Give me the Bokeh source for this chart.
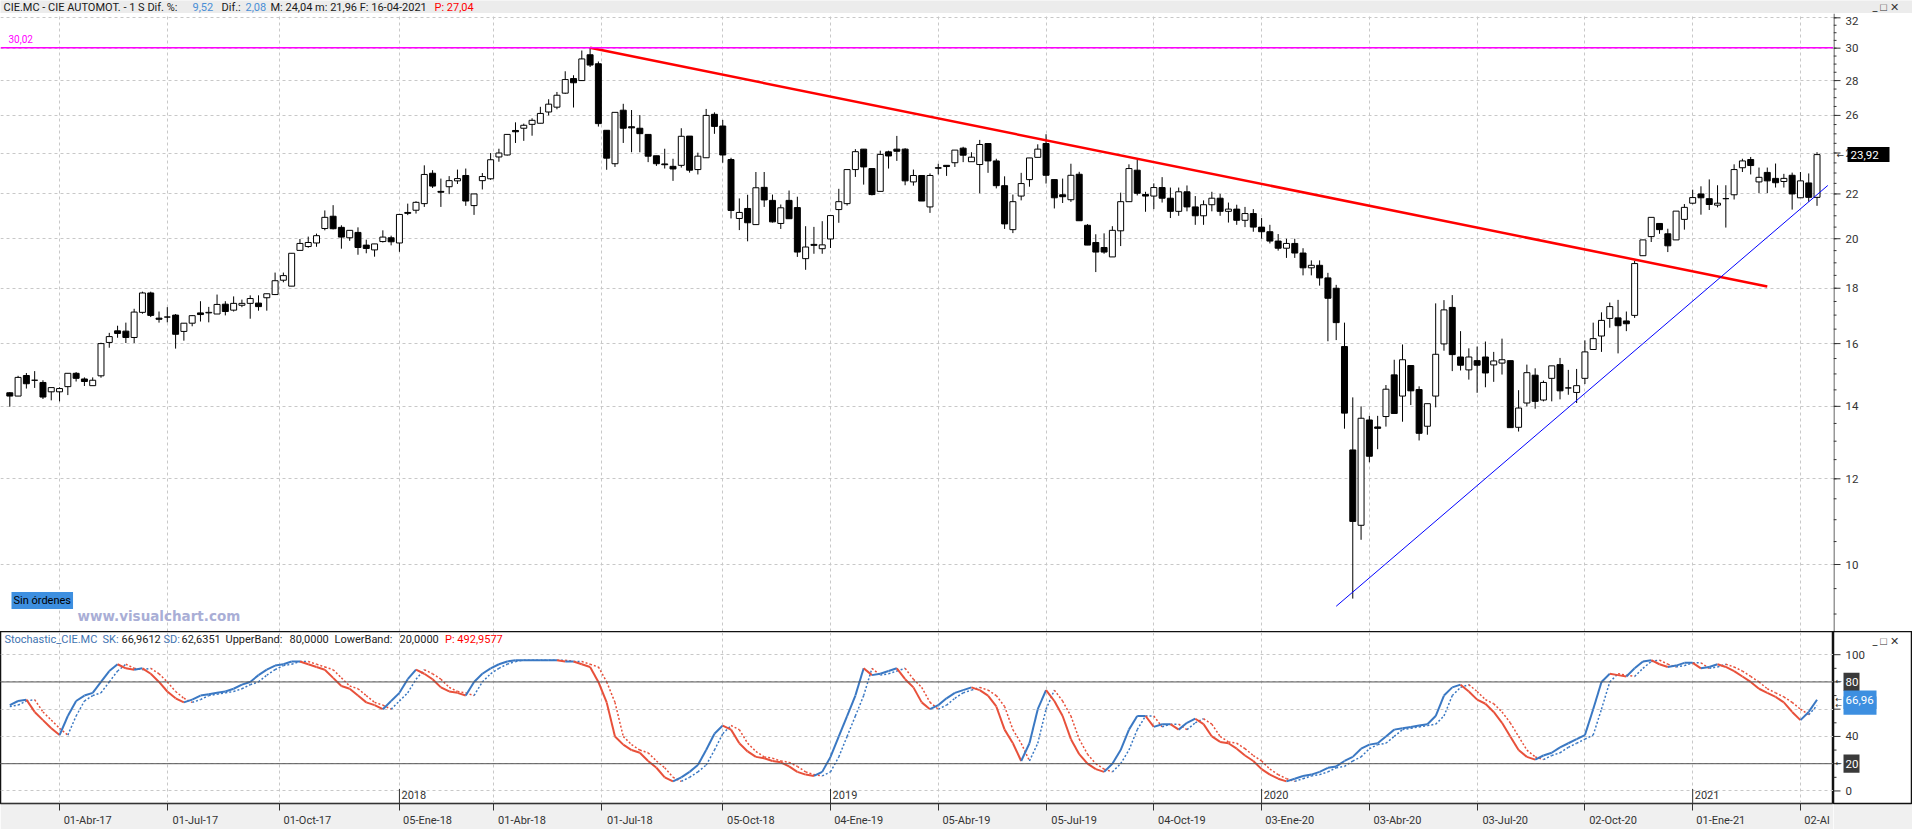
import math
from bokeh.plotting import figure
from bokeh.layouts import column, row
from bokeh.models import Range1d, FixedTicker, LinearAxis, Grid, Label, Span, ColumnDataSource
from bokeh.core.properties import value
from bokeh.embed import file_html
from bokeh.resources import INLINE

# ---------------- data ----------------
open_ = [14.41,14.31,14.95,14.80,14.73,14.44,14.44,14.60,15.02,14.84,
         14.63,14.94,16.04,16.44,16.43,16.21,17.10,17.82,16.89,16.93,
         17.00,16.42,16.71,17.08,17.08,17.04,17.40,17.18,17.36,17.43,
         17.44,17.64,17.76,18.31,18.08,19.51,19.67,19.82,20.44,20.98,
         20.49,20.04,20.27,19.73,19.53,19.88,20.04,19.82,21.15,21.25,
         21.55,22.99,22.12,22.34,22.62,22.88,21.46,22.63,22.72,23.80,
         23.90,25.18,25.30,25.51,25.57,26.19,26.46,27.26,28.12,28.00,
         29.58,29.02,25.19,23.46,26.29,25.38,25.30,24.97,23.86,23.45,
         23.33,23.38,24.88,23.17,23.76,26.06,25.42,23.67,20.88,21.33,
         20.61,22.31,21.70,20.66,21.70,21.37,19.17,19.76,19.58,19.99,
         21.28,21.55,23.17,24.20,23.22,22.12,24.06,24.20,24.20,22.57,
         22.88,21.40,23.26,23.38,23.51,24.25,23.56,23.42,24.49,23.60,
         22.39,20.39,21.90,22.68,23.78,24.49,22.68,21.96,21.73,22.94,
         20.58,19.84,19.63,19.24,20.34,21.64,23.14,21.97,21.90,22.30,
         21.80,21.20,22.10,21.40,21.00,21.50,21.80,21.20,21.30,20.80,
         21.10,20.50,20.30,19.90,19.60,19.80,19.40,18.80,18.90,18.40,
         18.00,15.90,12.76,10.87,13.60,13.40,13.70,14.97,14.31,15.27,
         14.51,13.42,14.31,15.99,17.28,15.55,15.13,15.43,15.55,15.29,
         15.35,15.43,13.39,14.10,14.96,14.19,14.86,15.30,14.56,14.42,
         14.86,15.80,16.26,16.88,16.90,16.79,16.99,19.29,20.09,20.66,
         20.21,19.95,20.84,21.57,22.00,21.78,21.48,21.78,21.96,23.26,
         23.67,22.57,23.03,22.74,22.59,22.89,21.82,22.52,21.84]
high = [14.43,14.94,15.03,15.09,14.80,14.57,14.58,15.02,15.06,14.89,
        14.89,16.03,16.37,16.62,16.73,17.23,17.87,17.87,17.13,17.29,
        17.04,16.71,17.00,17.51,17.30,17.76,17.51,17.69,17.57,17.73,
        17.73,17.79,18.61,18.61,19.39,19.99,20.09,20.22,21.24,21.48,
        20.58,20.36,20.49,19.96,19.78,20.36,20.13,21.09,21.55,21.66,
        23.38,23.14,22.73,22.85,23.17,23.22,22.00,23.00,24.00,24.22,
        24.97,25.62,25.55,25.84,26.48,26.91,27.33,28.56,28.32,29.85,
        30.02,29.16,25.19,26.17,26.65,26.30,26.02,24.97,23.86,24.22,
        23.71,25.30,24.88,24.02,26.36,26.17,25.75,23.76,21.79,21.96,
        23.05,23.05,21.97,21.51,22.16,21.87,20.54,20.51,20.76,21.03,
        22.24,23.17,24.20,24.20,23.22,24.12,24.12,24.89,24.25,23.17,
        22.88,22.98,23.46,23.38,24.15,24.32,24.04,24.68,24.49,23.71,
        22.84,21.97,23.01,23.75,24.45,24.98,22.68,22.73,23.46,23.06,
        20.63,20.19,20.23,20.54,22.06,23.43,23.66,22.10,22.50,22.80,
        22.30,22.30,22.40,21.90,21.70,22.10,22.00,21.60,21.50,21.40,
        21.30,20.90,20.60,20.20,20.00,20.00,19.60,19.10,19.10,18.60,
        18.13,16.73,14.27,14.00,13.72,13.72,14.65,15.46,15.97,15.27,
        14.61,14.08,17.43,17.55,17.74,16.43,15.84,15.90,16.07,15.72,
        16.17,15.43,14.49,15.30,15.18,14.79,15.26,15.52,15.13,15.16,
        16.11,16.73,17.10,17.46,17.56,17.13,19.08,19.95,20.93,20.66,
        20.43,21.21,21.53,22.20,22.36,22.69,22.41,22.41,23.43,23.71,
        23.80,23.27,23.27,23.47,22.96,23.02,23.05,22.98,24.04]
low = [13.99,14.31,14.54,14.56,14.22,14.18,14.15,14.34,14.76,14.62,
       14.63,14.88,15.86,16.20,16.02,16.02,17.05,16.93,16.73,16.74,
       15.83,16.10,16.60,16.77,16.74,17.04,16.99,17.13,17.29,16.87,
       17.16,17.16,17.74,18.23,18.08,19.51,19.62,19.66,20.36,20.40,
       19.58,19.91,19.33,19.39,19.25,19.84,19.72,19.45,21.03,21.10,
       21.40,22.28,21.40,21.99,22.47,21.45,21.04,22.21,22.67,23.56,
       23.87,24.52,24.63,24.90,25.57,26.00,26.34,27.21,26.44,28.00,
       28.82,25.39,23.16,23.30,24.52,24.04,24.04,23.54,23.35,23.22,
       22.62,23.27,23.02,22.93,23.76,25.00,23.51,20.88,20.37,19.89,
       20.61,21.40,20.70,20.42,20.87,19.24,18.72,19.37,19.37,19.61,
       20.69,21.46,22.81,22.44,21.93,22.12,23.22,23.60,22.41,22.39,
       21.67,21.13,22.93,22.86,23.30,23.54,23.56,22.03,23.01,22.26,
       20.42,20.24,21.70,22.34,23.78,22.49,21.33,21.58,21.63,20.78,
       19.73,18.63,19.37,19.24,19.69,21.64,21.93,21.18,21.30,21.60,
       20.90,21.00,21.20,20.60,20.60,21.20,21.00,20.70,20.60,20.50,
       20.30,20.00,19.80,19.50,19.20,19.20,18.50,18.50,18.10,16.08,
       16.12,13.35,9.30,10.54,12.43,12.78,13.41,13.79,13.55,14.04,
       13.02,13.18,13.97,15.76,15.09,15.11,14.82,14.41,14.58,14.75,
       14.98,13.38,13.27,14.00,13.93,14.15,14.15,14.21,14.35,14.10,
       14.68,15.80,15.72,16.55,15.67,16.43,16.90,19.29,19.86,20.21,
       19.44,19.95,20.39,21.52,21.05,21.26,21.38,20.48,21.74,23.05,
       22.93,22.04,22.04,22.30,22.30,21.28,21.82,21.64,21.45]
close = [14.31,14.89,14.69,14.80,14.28,14.57,14.54,15.02,14.86,14.76,
         14.80,16.00,16.24,16.35,16.21,17.11,17.82,16.99,16.85,16.93,
         16.32,16.71,16.98,17.02,17.10,17.39,17.13,17.43,17.43,17.61,
         17.31,17.79,18.29,18.49,19.39,19.80,19.84,20.13,20.93,20.43,
         20.07,20.36,19.63,19.59,19.78,20.07,19.87,21.06,21.11,21.61,
         22.93,22.37,22.08,22.63,22.73,21.67,22.00,22.83,23.66,24.00,
         24.97,25.11,25.46,25.73,26.11,26.63,27.14,28.06,27.87,29.32,
         28.94,25.55,23.74,26.17,25.30,25.32,25.01,23.84,23.46,23.41,
         23.20,24.87,23.14,23.84,26.00,25.40,23.90,21.24,21.15,20.69,
         22.29,21.72,20.73,21.36,20.87,19.44,19.65,19.72,19.74,21.01,
         21.64,23.17,24.07,23.30,21.97,23.93,23.85,24.09,22.62,22.88,
         21.67,22.88,23.24,23.32,24.15,23.89,23.79,24.44,23.60,22.39,
         20.64,21.64,22.49,23.75,24.20,22.89,21.82,21.87,22.89,20.78,
         19.73,19.44,19.44,20.36,21.64,23.22,22.03,21.90,22.30,21.80,
         21.20,22.10,21.40,21.00,21.50,21.80,21.20,21.30,20.80,21.10,
         20.50,20.30,19.90,19.60,19.80,19.40,18.80,18.90,18.40,17.62,
         16.73,13.80,10.96,13.65,12.59,13.36,14.52,13.79,15.46,14.47,
         13.22,14.08,15.64,17.19,15.63,15.28,15.55,15.28,15.03,15.42,
         15.46,13.38,13.95,15.04,14.15,14.73,15.26,14.47,14.56,14.63,
         15.72,16.17,16.81,17.31,16.62,16.69,18.97,19.95,20.93,20.39,
         19.70,21.21,21.38,21.83,21.82,21.51,21.57,21.78,23.17,23.60,
         23.37,22.79,22.62,22.53,22.74,22.00,22.62,21.84,23.92]
sk = [63,66,67,58,52,46,41,55,66,70, 72,80,88,93,90,89,90,86,80,73,
      68,65,67,70,71,72,73,75,78,80, 85,89,92,93,95,95,93,91,89,83,
      77,75,70,65,63,60,66,72,82,89, 86,82,76,73,72,70,80,86,90,93,
      95,96,96,96,96,96,96,95,95,93, 91,80,65,40,34,30,28,22,17,10,
      7,10,14,19,30,42,48,45,35,29, 25,24,22,21,18,14,12,11,14,25,
      40,55,70,90,85,86,88,90,82,76, 65,60,63,68,72,74,76,74,70,62,
      45,35,22,35,60,74,66,55,38,27, 20,16,14,20,30,45,55,55,47,49,
      49,45,50,53,49,40,36,35,31,26, 22,16,12,9,7,9,11,12,14,17,
      18,22,25,31,34,35,40,45,46,47, 48,49,55,70,76,78,73,67,64,58,
      50,40,30,25,23,26,28,32,35,38, 41,60,80,86,85,84,90,95,96,93,
      91,92,94,94,90,91,93,91,88,84, 80,75,72,69,65,58,52,58,66.96]
sd = [62,63,66,67,58,52,46,41,55,66, 70,72,80,88,93,90,89,90,86,80,
      73,68,65,67,70,71,72,73,75,78, 80,85,89,92,93,95,95,93,91,89,
      83,77,75,70,65,63,60,66,72,82, 89,86,82,76,73,72,70,80,86,90,
      93,95,96,96,96,96,96,96,95,95, 93,91,80,65,40,34,30,28,22,17,
      10,7,10,14,19,30,42,48,45,35, 29,25,24,22,21,18,14,12,11,14,
      25,40,55,70,90,85,86,88,90,82, 76,65,60,63,68,72,74,76,74,70,
      62,45,35,22,35,60,74,66,55,38, 27,20,16,14,20,30,45,55,55,47,
      49,49,45,50,53,49,40,36,35,31, 26,22,16,12,9,7,9,11,12,14,
      17,18,22,25,31,34,35,40,45,46, 47,48,49,55,70,76,78,73,67,64,
      58,50,40,30,25,23,26,28,32,35, 38,41,60,80,86,85,84,90,95,96,
      93,91,92,94,94,90,91,93,91,88, 84,80,75,72,69,65,60,56,62.64]

N = len(close)
assert len(open_) == N and len(high) == N and len(low) == N, (len(open_), len(high), len(low), N)
assert len(sk) == N and len(sd) == N, (len(sk), len(sd), N)
bar = list(range(1, N + 1))

tick_pos = [7.0, 20.0, 33.5, 48, 59.4, 72.4, 87, 100, 113, 126, 139, 152, 165, 178, 191, 204, 217]
tick_labels = ["01-Abr-17", "01-Jul-17", "01-Oct-17", "05-Ene-18", "01-Abr-18", "01-Jul-18",
               "05-Oct-18", "04-Ene-19", "05-Abr-19", "05-Jul-19", "04-Oct-19", "03-Ene-20",
               "03-Abr-20", "03-Jul-20", "02-Oct-20", "01-Ene-21", "02-Al"]
year_pos = [48, 100, 152, 204]
year_labels = ["2018", "2019", "2020", "2021"]
price_ticks = list(range(10, 33, 2))
price_minor = [v / 2 for v in range(17, 66)]
stoch_ticks = [0, 20, 40, 60, 80, 100]
stoch_minor = [10, 30, 50, 70, 90]
resistance = 30.02
red_trend_x = [71, 213]
red_trend_y = [30.02, 18.07]
blue_trend_x = [161, 220.3]
blue_trend_y = [9.15, 22.4]
last_close = 23.92
last_sk, last_sd = 66.96, 62.64
upper_band, lower_band = 80, 20

# ---------------- geometry helpers (pixel -> data, for annotations) ----------------
W, AXW = 1912, 79
PW = W - AXW
FONT = "Roboto"
DARK = "#333333"
def px_to_bar(px):
    return (px - 9.3) / 8.29 + 1
def price_at(py):
    return 10 * math.exp((564 - py) / 470)
def py_of_price(v):
    return 564 - 470 * math.log(v / 10)
def stoch_at(py):
    return (796 - py) / 1.41
def py_of_stoch(v):
    return 796 - 1.41 * v

x_range = Range1d(px_to_bar(0), px_to_bar(PW))

def bare(fig):
    fig.grid.visible = False
    return fig

# ---------------- header ----------------
h = figure(width=W, height=13, x_range=Range1d(0, W), y_range=Range1d(0, 13),
           toolbar_location=None, output_backend="svg", x_axis_location=None, y_axis_location=None,
           min_border=0, background_fill_color="#ececec", border_fill_color="#ececec",
           outline_line_color=None)
bare(h)
head_parts = [(3, "CIE.MC - CIE AUTOMOT. -  1 S  Dif. %:", "#1a1a1a"),
              (192, "9,52", "#4a8fd6"), (221, "Dif.:", "#1a1a1a"), (245, "2,08", "#4a8fd6"),
              (270, "M: 24,04  m: 21,96  F: 16-04-2021", "#1a1a1a"), (434, "P: 27,04", "#ff0000"),
              (1872, "_ □ ✕", DARK)]
h.text(x=[a for a, _, _ in head_parts], y=[6.5] * len(head_parts), text=[b for _, b, _ in head_parts],
       text_color=[c for _, _, c in head_parts], text_font=value(FONT), text_font_size="11px",
       text_baseline="middle", text_align="left")

# ---------------- main price panel ----------------
price_range = Range1d(price_at(631), price_at(13))
p = figure(width=PW, height=618, x_range=x_range, y_range=price_range,
           y_axis_type="log", x_axis_location=None, y_axis_location=None,
           toolbar_location=None, output_backend="svg", min_border=0,
           background_fill_color="white", border_fill_color="white", outline_line_color=None)
bare(p)
p.add_layout(Grid(dimension=1, ticker=FixedTicker(ticks=price_ticks), grid_line_color="#c8c8c8",
                  grid_line_dash="3 3"))
p.add_layout(Grid(dimension=0, ticker=FixedTicker(ticks=tick_pos), grid_line_color="#c8c8c8",
                  grid_line_dash="3 3"))

tops = [max(o, c) for o, c in zip(open_, close)]
bots = [min(o, c) for o, c in zip(open_, close)]
fills = ["white" if c >= o else "black" for o, c in zip(open_, close)]
csrc = ColumnDataSource(dict(x=bar, high=high, low=low, top=tops, bottom=bots, fill=fills))
p.segment(x0="x", y0="high", x1="x", y1="low", source=csrc, line_color="black", line_width=1)
p.vbar(x="x", width=0.72, top="top", bottom="bottom", source=csrc, fill_color="fill",
       line_color="black", line_width=1)

p.add_layout(Span(location=resistance, dimension="width", line_color="#ff00ff", line_width=1.5))
p.line(x=red_trend_x, y=red_trend_y, line_color="#ff0000", line_width=2.5)
p.line(x=blue_trend_x, y=blue_trend_y, line_color="#0000ff", line_width=1)

p.text(x=[px_to_bar(8)], y=[price_at(38)], text=["30,02"], text_color="#ff00ff",
       text_font=value(FONT), text_font_size="10px", text_baseline="middle")
p.text(x=[px_to_bar(77)], y=[price_at(615)], text=["www.visualchart.com"], text_color="#a9aed6",
       text_font=value("DejaVu Sans"), text_font_style="bold", text_font_size="13.5px",
       text_baseline="middle")
p.add_layout(Label(x=px_to_bar(11), y=price_at(600), text="Sin órdenes", text_color="black",
                   text_font=FONT, text_font_size="11px", text_baseline="middle",
                   background_fill_color="#3d8fe0", padding=2))

# right-hand price scale (drawn in its own strip so the value box can overlap it)
pa = figure(width=AXW, height=618, x_range=Range1d(0, AXW), y_range=price_range, y_axis_type="log",
            x_axis_location=None, y_axis_location=None, toolbar_location=None, output_backend="svg",
            min_border=0, background_fill_color="white", border_fill_color="white", outline_line_color=None)
bare(pa)
lo_p, hi_p = price_at(631), price_at(13)
pa.segment(x0=[0.5], x1=[0.5], y0=[lo_p], y1=[hi_p], line_color=DARK, line_width=1)
pa.segment(x0=[0] * len(price_minor), x1=[3] * len(price_minor), y0=price_minor, y1=price_minor,
           line_color=DARK, line_width=1)
pa.segment(x0=[0] * len(price_ticks), x1=[7] * len(price_ticks), y0=price_ticks, y1=price_ticks,
           line_color=DARK, line_width=1)
lab_src = ColumnDataSource(dict(x=[12] * len(price_ticks), y=price_ticks,
                                text=[str(t) for t in price_ticks],
                                yoff=[3 if t == price_ticks[-1] else 0 for t in price_ticks]))
pa.text(x="x", y="y", text="text", y_offset="yoff", source=lab_src,
        text_color=DARK, text_font=value(FONT), text_font_size="11.5px", text_baseline="middle")
yc = py_of_price(last_close)
pa.quad(left=[14], right=[56], top=[price_at(yc - 7.5)], bottom=[price_at(yc + 7.5)],
        fill_color="black", line_color=None)
pa.text(x=[17], y=[last_close], text=["23,92"], text_color="white", text_font=value(FONT),
        text_font_size="11.5px", text_baseline="middle")
pa.text(x=[3], y=[last_close], text=["←"], text_color=DARK, text_font=value("DejaVu Sans"),
        text_font_size="9px", text_baseline="middle")

# ---------------- stochastic panel ----------------
stoch_range = Range1d(stoch_at(809), stoch_at(631))
q = figure(width=PW, height=198, x_range=x_range, y_range=stoch_range,
           x_axis_location=None, y_axis_location=None,
           toolbar_location=None, output_backend="svg",
           min_border_left=0, min_border_right=0, min_border_top=0, min_border_bottom=20,
           background_fill_color="white", border_fill_color="#f0f0f0",
           outline_line_color="#111111", outline_line_width=1.5)
bare(q)
q.add_layout(Grid(dimension=1, ticker=FixedTicker(ticks=stoch_ticks), grid_line_color="#c8c8c8",
                  grid_line_dash="3 3"))
q.add_layout(Grid(dimension=0, ticker=FixedTicker(ticks=tick_pos), grid_line_color="#c8c8c8",
                  grid_line_dash="3 3"))

label_pos = [round(t + (len(s) * 5.8 / 2 + 2) / 8.29, 3) for t, s in zip(tick_pos, tick_labels)]
xaxis = LinearAxis(ticker=FixedTicker(ticks=label_pos, minor_ticks=tick_pos),
                   axis_line_color=DARK, major_tick_out=0, major_tick_in=0, major_tick_line_color=None,
                   minor_tick_out=7, minor_tick_in=0, minor_tick_line_color=DARK,
                   major_label_overrides={lp: s for lp, s in zip(label_pos, tick_labels)},
                   major_label_text_font=FONT, major_label_text_font_size="11px",
                   major_label_text_color=DARK, major_label_standoff=3)
q.add_layout(xaxis, "below")

q.add_layout(Span(location=upper_band, dimension="width", line_color="#555555", line_width=1))
q.add_layout(Span(location=lower_band, dimension="width", line_color="#555555", line_width=1))

BLUE, RED = "#3a78c3", "#e8503a"
def seg_src(vals):
    return ColumnDataSource(dict(x0=bar[:-1], x1=bar[1:], y0=vals[:-1], y1=vals[1:],
                                 color=[BLUE if b >= a else RED for a, b in zip(vals[:-1], vals[1:])]))
q.segment(x0="x0", y0="y0", x1="x1", y1="y1", source=seg_src(sd), line_color="color",
          line_width=1.5, line_dash="2 2")
q.segment(x0="x0", y0="y0", x1="x1", y1="y1", source=seg_src(sk), line_color="color", line_width=2)

q.segment(x0=year_pos, x1=year_pos, y0=[stoch_at(809)] * len(year_pos), y1=[stoch_at(794)] * len(year_pos),
          line_color=DARK, line_width=1)
q.text(x=[y + 0.25 for y in year_pos], y=[stoch_at(800)] * len(year_pos), text=year_labels,
       text_color=DARK, text_font=value(FONT), text_font_size="11px", text_baseline="middle")

st_parts = [(4, "Stochastic_CIE.MC", "#3f73b0"), (102, "SK:", "#3f73b0"), (121, "66,9612", "#222222"),
            (163, "SD:", "#3f73b0"), (181, "62,6351", "#222222"), (225, "UpperBand:", "#222222"),
            (289, "80,0000", "#222222"), (334, "LowerBand:", "#222222"), (399, "20,0000", "#222222"),
            (444.5, "P: 492,9577", "#ff0000")]
q.text(x=[px_to_bar(a) for a, _, _ in st_parts], y=[stoch_at(639)] * len(st_parts),
       text=[b for _, b, _ in st_parts], text_color=[c for _, _, c in st_parts],
       text_font=value(FONT), text_font_size="11px", text_baseline="middle")

# right-hand stochastic scale strip
qa = figure(width=AXW, height=198, x_range=Range1d(0, AXW), y_range=stoch_range,
            x_axis_location=None, y_axis_location=None, toolbar_location=None, output_backend="svg",
            min_border_left=0, min_border_right=0, min_border_top=0, min_border_bottom=20,
            background_fill_color="white", border_fill_color="#f0f0f0",
            outline_line_color="#111111", outline_line_width=1.5)
bare(qa)
qa.segment(x0=[0] * len(stoch_minor), x1=[3] * len(stoch_minor), y0=stoch_minor, y1=stoch_minor,
           line_color=DARK, line_width=1)
qa.segment(x0=[0] * len(stoch_ticks), x1=[7] * len(stoch_ticks), y0=stoch_ticks, y1=stoch_ticks,
           line_color=DARK, line_width=1)
qa.text(x=[12] * len(stoch_ticks), y=stoch_ticks, text=[str(t) for t in stoch_ticks],
        text_color=DARK, text_font=value(FONT), text_font_size="11.5px", text_baseline="middle")
box_v = [upper_band, lower_band, last_sd, last_sk]
box_c = ["#3a3a3a", "#3a3a3a", "#3d8fe0", "#3d8fe0"]
box_r = [26, 26, 43, 43]
qa.quad(left=[10] * 4, right=box_r, top=[stoch_at(py_of_stoch(v) - 9.5) for v in box_v],
        bottom=[stoch_at(py_of_stoch(v) + 9.5) for v in box_v], fill_color=box_c, line_color=None)
qa.text(x=[12, 12, 12], y=[upper_band, lower_band, last_sk], text=["80", "20", "66,96"],
        text_color="white", text_font=value(FONT), text_font_size="11.5px", text_baseline="middle")
qa.text(x=[2, 2, 2, 2], y=box_v, text=["←"] * 4, text_color=DARK, text_font=value("DejaVu Sans"),
        text_font_size="8px", text_baseline="middle")
qa.text(x=[39], y=[stoch_at(641)], text=["_ □ ✕"], text_color=DARK, text_font=value(FONT),
        text_font_size="11px", text_baseline="middle")

layout = column(h, row(p, pa, spacing=0), row(q, qa, spacing=0), spacing=0)
open("out.html", "w").write(file_html(layout, INLINE))
